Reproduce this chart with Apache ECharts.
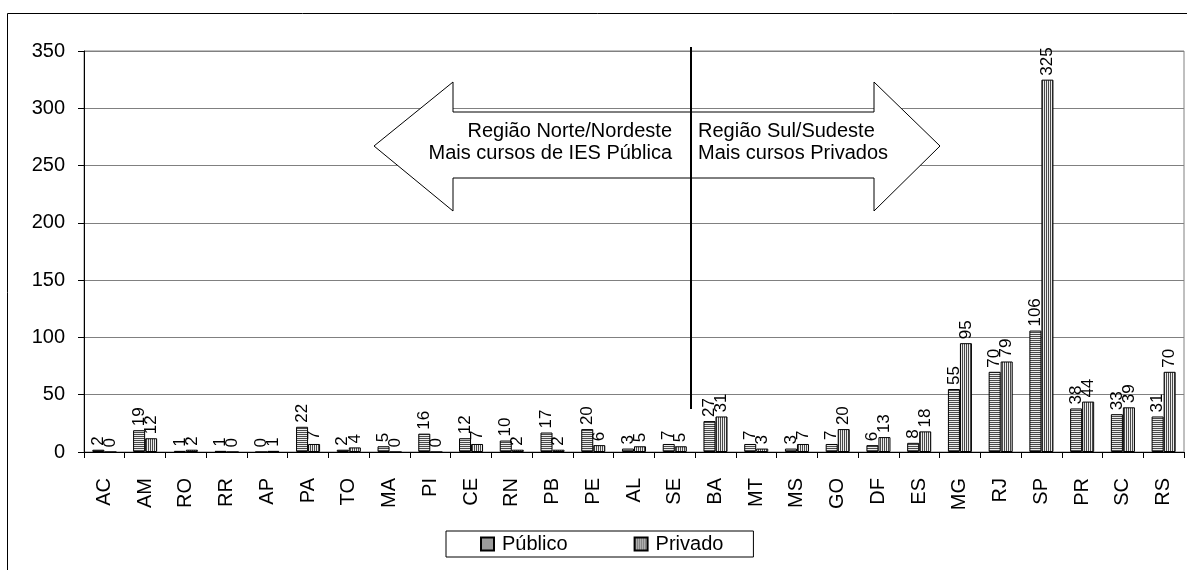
<!DOCTYPE html>
<html>
<head>
<meta charset="utf-8">
<script src="https://cdn.jsdelivr.net/npm/echarts@6/dist/echarts.min.js"></script>
<style>
  html, body { margin: 0; padding: 0; background: #fff; }
  #chart { width: 1187px; height: 570px; }
</style>
</head>
<body>
<div id="chart"></div>
<script>
// Cursos por estado: instituições públicas x privadas
const estados = ['AC','AM','RO','RR','AP','PA','TO','MA','PI','CE','RN','PB','PE','AL','SE',
                 'BA','MT','MS','GO','DF','ES','MG','RJ','SP','PR','SC','RS'];
const publico = [2,19,1,1,0,22,2,5,16,12,10,17,20,3,7,27,7,3,7,6,8,55,70,106,38,33,31];
const privado = [0,12,2,0,1,7,4,0,0,7,2,2,6,5,5,31,3,7,20,13,18,95,79,325,44,39,70];
const yTicks = { min: 0, max: 350, interval: 50 };

const FONT = '"Liberation Sans", Arial, sans-serif';

// Hatch fills: horizontal lines for Público, vertical lines for Privado
function hatch(vertical) {
  const c = document.createElement('canvas');
  c.width = 2; c.height = 2;
  const g = c.getContext('2d');
  g.fillStyle = '#ececec';
  g.fillRect(0, 0, 2, 2);
  g.fillStyle = '#4a4a4a';
  if (vertical) g.fillRect(0, 0, 1, 2);
  else g.fillRect(0, 0, 2, 1);
  return { image: c, repeat: 'repeat' };
}

const valueLabel = {
  show: true,
  position: 'top',
  rotate: 90,
  align: 'left',
  verticalAlign: 'middle',
  distance: 4,
  fontSize: 17,
  fontFamily: FONT,
  color: '#000'
};

const chart = echarts.init(document.getElementById('chart'), null, { renderer: 'canvas' });

chart.setOption({
  animation: false,
  backgroundColor: '#fff',
  textStyle: { fontFamily: FONT },
  grid: {
    left: 84, right: 3, top: 51, bottom: 118,
    show: true, borderColor: '#808080', borderWidth: 1, backgroundColor: 'transparent'
  },
  legend: {
    left: 446, top: 531,
    padding: [3, 30, 3, 34],
    itemGap: 66,
    itemWidth: 13, itemHeight: 13,
    icon: 'rect',
    borderColor: '#000', borderWidth: 1,
    textStyle: { fontSize: 20, fontFamily: FONT, color: '#000', padding: [0, 0, 0, 3] },
    data: ['Público', 'Privado']
  },
  xAxis: {
    type: 'category',
    data: estados,
    axisLine: { lineStyle: { color: '#000', width: 1 } },
    axisTick: { show: true, length: 6, lineStyle: { color: '#000' } },
    axisLabel: { interval: 0, rotate: 90, margin: 26, fontSize: 20, fontFamily: FONT, color: '#000' }
  },
  yAxis: {
    type: 'value',
    min: yTicks.min, max: yTicks.max, interval: yTicks.interval,
    axisLine: { show: true, lineStyle: { color: '#000', width: 1 } },
    axisTick: { show: true, length: 6, lineStyle: { color: '#000' } },
    axisLabel: { margin: 19, fontSize: 20, fontFamily: FONT, color: '#000' },
    splitLine: { lineStyle: { color: '#808080', width: 1 } }
  },
  series: [
    {
      name: 'Público', type: 'bar', data: publico,
      barGap: '0%', barCategoryGap: '41%',
      itemStyle: { color: hatch(false), borderColor: '#000', borderWidth: 1 },
      label: valueLabel
    },
    {
      name: 'Privado', type: 'bar', data: privado,
      barGap: '0%', barCategoryGap: '41%',
      itemStyle: { color: hatch(true), borderColor: '#000', borderWidth: 1 },
      label: valueLabel
    }
  ],
  graphic: [
    // outer frame
    {
      type: 'rect', silent: true, z: 0,
      shape: { x: 7.5, y: 13.5, width: 1400, height: 800 },
      style: { fill: 'none', stroke: '#000', lineWidth: 1 }
    },
    // double arrow between the regions
    {
      type: 'polygon', silent: true, z: 100,
      shape: {
        points: [
          [374, 146], [453, 82], [453, 112], [874, 112], [874, 82],
          [940, 146], [874, 211], [874, 178], [453, 178], [453, 211]
        ]
      },
      style: { fill: '#fff', stroke: '#000', lineWidth: 1 }
    },
    {
      type: 'text', silent: true, z: 102,
      x: 672, y: 142,
      style: {
        text: 'Região Norte/Nordeste\nMais cursos de IES Pública',
        align: 'right', verticalAlign: 'middle',
        font: '20px ' + FONT, lineHeight: 22, fill: '#000'
      }
    },
    {
      type: 'text', silent: true, z: 102,
      x: 698, y: 142,
      style: {
        text: 'Região Sul/Sudeste\nMais cursos Privados',
        align: 'left', verticalAlign: 'middle',
        font: '20px ' + FONT, lineHeight: 22, fill: '#000'
      }
    },
    // divider between Norte/Nordeste and Sul/Sudeste
    {
      type: 'line', silent: true, z: 103,
      shape: { x1: 691, y1: 47, x2: 691, y2: 409 },
      style: { stroke: '#000', lineWidth: 2 }
    }
  ]
});
</script>
</body>
</html>
